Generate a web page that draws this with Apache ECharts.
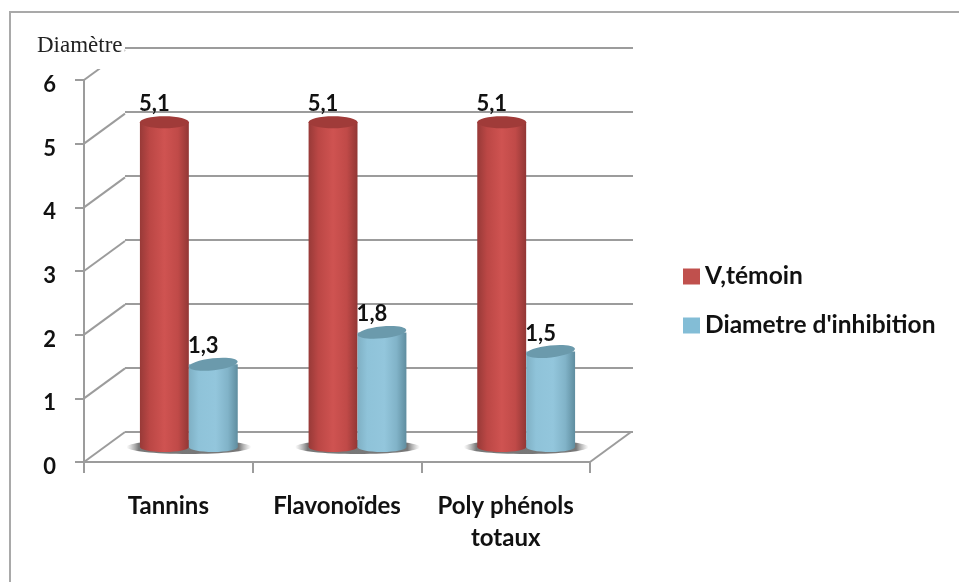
<!DOCTYPE html>
<html><head><meta charset="utf-8">
<style>html,body{margin:0;padding:0;background:#fff}#c{width:959px;height:582px}</style>
<script src="https://cdn.jsdelivr.net/npm/echarts@6/dist/echarts.min.js"></script>
</head><body><div id="c"></div>
<script>
const categories = ['Tannins', 'Flavonoïdes', 'Poly phénols\ntotaux'];
const temoinValues = [5.1, 5.1, 5.1];
const inhibitionValues = [1.3, 1.8, 1.5];
const yMin = 0, yMax = 6, yStep = 1;
const yTicks = [0, 1, 2, 3, 4, 5, 6];
const seriesNames = ['V,témoin', "Diametre d'inhibition"];
const yAxisTitle = 'Diamètre';

const FONT = 'Lato, "Open Sans", sans-serif';
const GRID_LINE = '#9c9c9c';
const DEPTH_X = 41, DEPTH_Y = 30;

const chart = echarts.init(document.getElementById('c'));
const decimal = v => String(v).replace('.', ',');

function hGrad(stops) {
  return new echarts.graphic.LinearGradient(0, 0, 1, 0,
    stops.map(s => ({offset: s[0], color: s[1]})));
}

const palettes = [
  {body: [[0, '#983a38'], [0.2, '#bb4745'], [0.5, '#cf5351'], [0.78, '#c04a48'], [1, '#923735']], top: '#a03b39', legend: '#c0504d'},
  {body: [[0, '#7fb0c4'], [0.2, '#8fc3d9'], [0.55, '#93c6dc'], [0.8, '#81b3c8'], [1, '#5f8d9f']], top: '#6b9aac', legend: '#83bdd6'}
];

function cylinder(seriesIndex) {
  const pal = palettes[seriesIndex];
  return function (params, api) {
    const base = api.coord([api.value(0), 0]);
    const top = api.coord([api.value(0), api.value(1)]);
    const band = api.size([1, 0])[0];
    const w = band * 0.29;
    const cx = base[0] + DEPTH_X / 2 + (seriesIndex === 0 ? -w / 2 : w / 2);
    const by = base[1] - DEPTH_Y / 2;
    const ty = top[1] - DEPTH_Y / 2;
    const rx = w / 2;
    const tilt = 0.03 * (temoinValues[0] - api.value(1));
    return {
      type: 'group',
      children: [
        {type: 'ellipse', shape: {cx: cx, cy: by, rx: rx, ry: 5}, style: {fill: hGrad(pal.body)}},
        {type: 'rect', shape: {x: cx - rx, y: ty, width: w, height: by - ty}, style: {fill: hGrad(pal.body)}},
        {type: 'ellipse', x: cx, y: ty, rotation: tilt, shape: {cx: 0, cy: 0, rx: rx, ry: 6}, style: {fill: pal.top}},
        {type: 'text', x: cx - 10, y: ty - 18, style: {
          text: decimal(api.value(1)), fill: '#111', font: 'bold 22px ' + FONT,
          textAlign: 'center', textVerticalAlign: 'middle'}}
      ]
    };
  };
}

function floorShadow(params, api) {
  const base = api.coord([api.value(0), 0]);
  const band = api.size([1, 0])[0];
  return {
    type: 'ellipse',
    shape: {cx: base[0] + DEPTH_X / 2, cy: base[1] - DEPTH_Y / 2, rx: band * 0.37, ry: 7},
    style: {fill: new echarts.graphic.LinearGradient(0, 0, 1, 0, [
      {offset: 0, color: 'rgba(150,150,150,0)'},
      {offset: 0.1, color: 'rgba(105,105,105,0.9)'},
      {offset: 0.9, color: 'rgba(105,105,105,0.9)'},
      {offset: 1, color: 'rgba(150,150,150,0)'}])}
  };
}

function depthLine(params, api) {
  const isRightEdge = api.value(2) === 1;
  const c = api.coord([api.value(0), api.value(1)]);
  const band = api.size([1, 0])[0];
  const x = c[0] + (isRightEdge ? band / 2 : -band / 2);
  return {
    type: 'line',
    shape: {x1: x, y1: c[1], x2: x + DEPTH_X, y2: c[1] - DEPTH_Y},
    style: {stroke: GRID_LINE, lineWidth: 2, fill: null}
  };
}

const depthData = yTicks.map(t => [0, t, 0]).concat([[categories.length - 1, 0, 1]]);

chart.setOption({
  animation: false,
  backgroundColor: '#fff',
  title: {
    text: yAxisTitle, left: 37, top: 34, padding: [0, 2, 12, 0],
    backgroundColor: '#fff', z: 10,
    textStyle: {fontFamily: '"Liberation Serif", serif', fontWeight: 'normal', fontSize: 23, color: '#222'}
  },
  legend: {
    left: 683, top: 264, padding: 0, orient: 'vertical', itemWidth: 17, itemHeight: 16, itemGap: 24,
    selectedMode: false,
    textStyle: {fontFamily: FONT, fontWeight: 'bold', fontSize: 24.5, color: '#111'},
    data: seriesNames.map((n, i) => ({name: n, icon: 'rect', itemStyle: {color: palettes[i].legend}}))
  },
  grid: [
    {left: 125, top: 48, width: 508, height: 384},
    {left: 84, top: 80, width: 506, height: 382}
  ],
  xAxis: [
    {gridIndex: 0, type: 'category', data: categories, show: false},
    {gridIndex: 1, type: 'category', data: categories,
      axisLine: {show: true, lineStyle: {color: GRID_LINE, width: 2}},
      axisTick: {show: true, length: 11, lineStyle: {color: GRID_LINE, width: 2}},
      axisLabel: {show: true, interval: 0, margin: 28, lineHeight: 32, color: '#111',
        fontFamily: FONT, fontWeight: 'bold', fontSize: 24}}
  ],
  yAxis: [
    {gridIndex: 0, type: 'value', min: yMin, max: yMax, interval: yStep,
      axisLine: {show: false}, axisTick: {show: false}, axisLabel: {show: false},
      splitLine: {show: true, lineStyle: {color: GRID_LINE, width: 2}}},
    {gridIndex: 1, type: 'value', min: yMin, max: yMax, interval: yStep,
      axisLine: {show: true, lineStyle: {color: GRID_LINE, width: 2}},
      axisTick: {show: true, length: 9, lineStyle: {color: GRID_LINE, width: 2}},
      axisLabel: {show: true, margin: 28, verticalAlign: 'top', lineHeight: 10, color: '#111', fontFamily: FONT, fontWeight: 'bold', fontSize: 22},
      splitLine: {show: false}}
  ],
  series: [
    {type: 'custom', name: 'depth', xAxisIndex: 1, yAxisIndex: 1, z: 2, silent: true,
      renderItem: depthLine, data: depthData},
    {type: 'custom', name: 'shadow', xAxisIndex: 1, yAxisIndex: 1, z: 3, silent: true,
      renderItem: floorShadow, data: categories.map((c, i) => [i, 0])},
    {type: 'custom', name: seriesNames[0], xAxisIndex: 1, yAxisIndex: 1, z: 4,
      renderItem: cylinder(0), data: temoinValues.map((v, i) => [i, v])},
    {type: 'custom', name: seriesNames[1], xAxisIndex: 1, yAxisIndex: 1, z: 5,
      renderItem: cylinder(1), data: inhibitionValues.map((v, i) => [i, v])}
  ],
  graphic: [
    {type: 'polyline', silent: true, z: -1,
      shape: {points: [[10, 590], [10, 12], [970, 12]]},
      style: {stroke: '#a9a9a9', lineWidth: 2, fill: null}}
  ]
});
</script></body></html>
